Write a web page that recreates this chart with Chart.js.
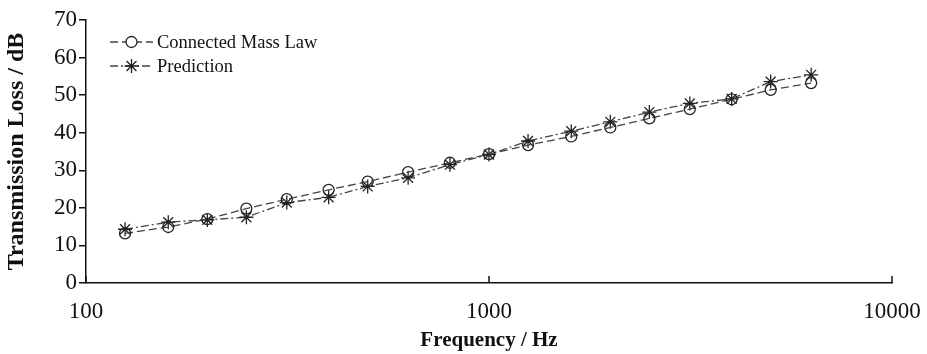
<!DOCTYPE html>
<html>
<head>
<meta charset="utf-8">
<script src="https://cdn.jsdelivr.net/npm/chart.js@4/dist/chart.umd.min.js"></script>
<style>
  html, body { margin: 0; padding: 0; background: #fff; }
  #wrap { width: 927px; height: 354px; position: relative; }
</style>
</head>
<body>
<div id="wrap"><canvas id="tl"></canvas></div>
<script>
/* ── Data ── */
const FREQ = [125, 160, 200, 250, 315, 400, 500, 630, 800, 1000, 1250, 1600, 2000, 2500, 3150, 4000, 5000, 6300];
const MASS_LAW = [13.2, 14.9, 17.0, 19.8, 22.3, 24.8, 27.0, 29.5, 32.0, 34.3, 36.7, 39.0, 41.4, 43.8, 46.3, 48.9, 51.4, 53.2];
const PREDICTION = [14.3, 16.2, 16.8, 17.5, 21.4, 22.8, 25.7, 28.0, 31.5, 34.2, 37.8, 40.4, 42.9, 45.5, 47.8, 49.0, 53.6, 55.4];
const X_TICKS = [100, 1000, 10000];
const SERIES_NAMES = ['Connected Mass Law', 'Prediction'];

const FONT = 'Liberation Serif';
const INK = '#111';

function pts(ys) { return FREQ.map((f, i) => ({ x: f, y: ys[i] })); }

/* legend drawn inside the plot, top-left, with line + marker samples */
const insideLegend = {
  id: 'insideLegend',
  afterDraw(chart) {
    const ctx = chart.ctx;
    const x0 = 110, x1 = 153, rows = [42, 66];
    chart.data.datasets.forEach((ds, i) => {
      const y = rows[i];
      ctx.save();
      ctx.strokeStyle = ds.borderColor;
      ctx.lineWidth = ds.borderWidth;
      ctx.setLineDash(ds.borderDash);
      ctx.beginPath(); ctx.moveTo(x0, y); ctx.lineTo(x1, y); ctx.stroke();
      ctx.setLineDash([]);
      ctx.strokeStyle = ds.pointBorderColor;
      ctx.fillStyle = '#fff';
      Chart.helpers.drawPoint(ctx, {
        pointStyle: ds.pointStyle, radius: ds.pointRadius, borderWidth: ds.pointBorderWidth, rotation: 0
      }, (x0 + x1) / 2, y);
      ctx.fillStyle = INK;
      ctx.font = '18.5px "' + FONT + '"';
      ctx.textBaseline = 'middle';
      ctx.fillText(SERIES_NAMES[i], x1 + 4, y + 1);
      ctx.restore();
    });
  }
};

/* x-axis tick marks point into the plot */
const innerXTicks = {
  id: 'innerXTicks',
  afterDraw(chart) {
    const ctx = chart.ctx, xs = chart.scales.x, bottom = chart.chartArea.bottom;
    ctx.save();
    ctx.strokeStyle = INK; ctx.lineWidth = 1.5;
    X_TICKS.forEach(v => {
      const px = Math.round(xs.getPixelForValue(v));
      ctx.beginPath(); ctx.moveTo(px, bottom); ctx.lineTo(px, bottom - 7); ctx.stroke();
    });
    ctx.restore();
  }
};

new Chart(document.getElementById('tl'), {
  type: 'line',
  data: {
    datasets: [
      {
        label: SERIES_NAMES[0], data: pts(MASS_LAW),
        borderColor: '#444', borderWidth: 1.3, borderDash: [8, 4],
        pointStyle: 'circle', pointRadius: 5.5, pointBorderWidth: 1.3,
        pointBorderColor: '#222', pointBackgroundColor: 'rgba(0,0,0,0)', tension: 0
      },
      {
        label: SERIES_NAMES[1], data: pts(PREDICTION),
        borderColor: '#444', borderWidth: 1.3, borderDash: [8, 3, 2, 3],
        pointStyle: 'star', pointRadius: 7, pointBorderWidth: 1.3,
        pointBorderColor: '#222', pointBackgroundColor: 'rgba(0,0,0,0)', tension: 0
      }
    ]
  },
  options: {
    responsive: true, maintainAspectRatio: false, animation: false,
    layout: { padding: { top: 20, right: 35, left: 0, bottom: 0 } },
    plugins: { legend: { display: false }, tooltip: { enabled: false } },
    scales: {
      x: {
        type: 'logarithmic', min: 100, max: 10000,
        afterBuildTicks: s => { s.ticks = X_TICKS.map(v => ({ value: v })); },
        afterFit: s => { s.height = 71; s.paddingLeft = 0; s.paddingRight = 0; },
        ticks: { color: INK, font: { family: FONT, size: 23 }, padding: 15, autoSkip: false, maxRotation: 0, callback: v => String(v) },
        grid: { display: true, drawOnChartArea: false, drawTicks: false },
        border: { color: INK, width: 1.5 },
        title: { display: true, text: 'Frequency / Hz', color: INK, font: { family: FONT, size: 21, weight: 'bold' }, padding: { top: 0, bottom: 1 } }
      },
      y: {
        min: 0, max: 70,
        afterFit: s => { s.width = 86; s.paddingTop = 0; s.paddingBottom = 0; },
        ticks: { stepSize: 10, color: INK, font: { family: FONT, size: 23 }, padding: 2 },
        grid: { display: true, drawOnChartArea: false, drawTicks: true, tickLength: 7, color: INK, lineWidth: 1.5 },
        border: { color: INK, width: 1.5 },
        title: { display: true, text: 'Transmission Loss / dB', color: INK, font: { family: FONT, size: 24, weight: 'bold' }, padding: { top: 2, bottom: 0 } }
      }
    }
  },
  plugins: [insideLegend, innerXTicks]
});
</script>
</body>
</html>
